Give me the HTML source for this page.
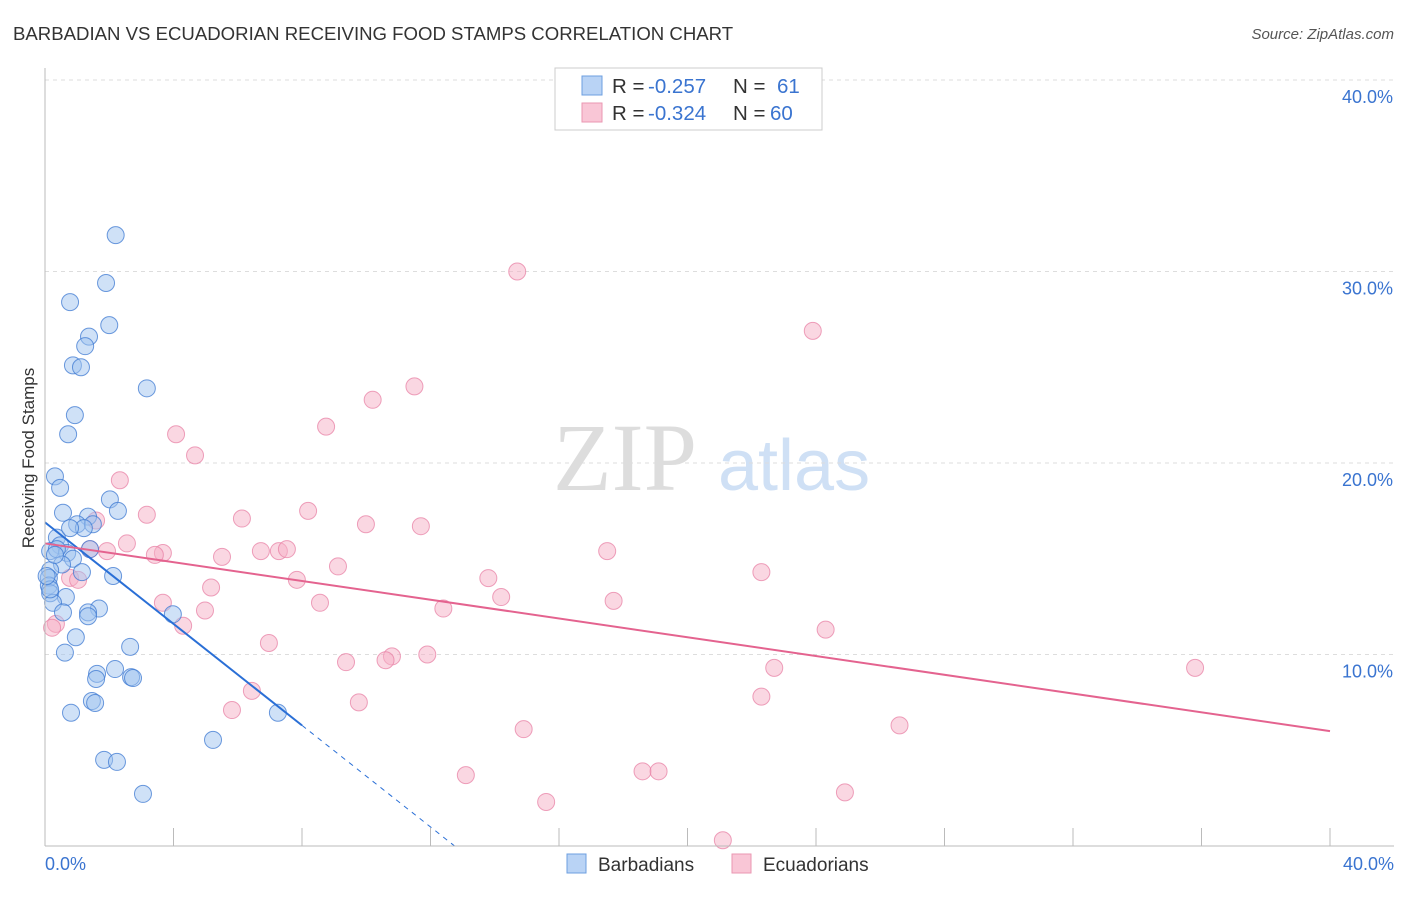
<!DOCTYPE html>
<html><head><meta charset="utf-8"><style>
body{margin:0;background:#fff;font-family:"Liberation Sans",sans-serif;}
svg text{font-family:"Liberation Sans",sans-serif;}
</style></head><body>
<svg id="chart" width="1406" height="892" xmlns="http://www.w3.org/2000/svg">
<text x="13" y="40" font-size="18.6" fill="#333">BARBADIAN VS ECUADORIAN RECEIVING FOOD STAMPS CORRELATION CHART</text>
<text x="1394" y="39" font-size="15" fill="#555" text-anchor="end" font-style="italic">Source: ZipAtlas.com</text>
<text transform="translate(34,458) rotate(-90)" font-size="17" fill="#333" text-anchor="middle">Receiving Food Stamps</text>
<text x="553" y="490" font-size="96" fill="#ddd" font-family="Liberation Serif" style="font-family:'Liberation Serif',serif">ZIP</text>
<text x="718" y="490" font-size="72" fill="#cfe0f5">atlas</text>
<g id="grid"></g><g id="pts"></g><g id="lines"></g>
<line x1="45" y1="846" x2="1394" y2="846" stroke="#bbb"/>
<line x1="45" y1="68" x2="45" y2="846" stroke="#bbb"/>
<text x="45" y="870" font-size="18" fill="#3a74d0">0.0%</text>
<text x="1394" y="870" font-size="18" fill="#3a74d0" text-anchor="end">40.0%</text>
<g>
<rect x="555" y="68" width="267" height="62" fill="#fff" stroke="#ccc"/>
<rect x="582" y="76" width="20" height="19" fill="#b9d3f5" stroke="#6d9fe0"/>
<rect x="582" y="103" width="20" height="19" fill="#f9c6d6" stroke="#ea97b2"/>
<text x="612" y="93" font-size="20.5" fill="#333">R = </text><text x="648" y="93" font-size="20.5" fill="#3a74d0">-0.257</text>
<text x="733" y="93" font-size="20.5" fill="#333">N = </text><text x="777" y="93" font-size="20.5" fill="#3a74d0">61</text>
<text x="612" y="120" font-size="20.5" fill="#333">R = </text><text x="648" y="120" font-size="20.5" fill="#3a74d0">-0.324</text>
<text x="733" y="120" font-size="20.5" fill="#333">N = </text><text x="770" y="120" font-size="20.5" fill="#3a74d0">60</text>
</g>
<g>
<rect x="567" y="854" width="19" height="19" fill="#b9d3f5" stroke="#6d9fe0"/>
<text x="598" y="871" font-size="19" fill="#333">Barbadians</text>
<rect x="732" y="854" width="19" height="19" fill="#f9c6d6" stroke="#ea97b2"/>
<text x="763" y="871" font-size="19" fill="#333">Ecuadorians</text>
</g>
</svg>
<script>
const yTicks=[10,20,30,40];
const xTicks=[4,8,12,16,20,24,28,32,36,40];
const blueX=[2.2,1.9,0.78,2.0,1.37,1.25,0.87,1.12,3.17,0.93,0.72,0.31,0.47,2.02,2.27,0.56,1.34,1.0,1.49,1.21,0.37,0.47,0.16,0.69,0.37,0.87,1.4,0.53,0.16,1.15,0.12,2.12,0.12,0.16,0.65,0.25,1.68,0.56,1.34,1.34,3.98,0.96,2.65,0.62,1.62,1.59,2.18,2.68,2.74,1.46,1.56,0.81,7.25,5.23,1.84,2.24,3.05,0.16,0.31,0.05,0.78];
const blueY=[31.9,29.4,28.4,27.2,26.6,26.1,25.1,25.0,23.9,22.5,21.5,19.3,18.7,18.1,17.5,17.4,17.2,16.8,16.8,16.6,16.1,15.7,15.4,15.3,15.5,15.0,15.5,14.7,14.4,14.3,14.0,14.1,13.6,13.2,13.0,12.7,12.4,12.2,12.2,12.0,12.1,10.9,10.4,10.1,8.99,8.72,9.24,8.82,8.77,7.57,7.47,6.96,6.96,5.54,4.5,4.39,2.72,13.4,15.2,14.1,16.6];
const pinkX=[14.7,23.9,11.5,10.2,8.75,4.08,4.67,2.33,3.17,6.13,8.19,9.99,11.7,1.59,2.55,1.93,3.67,3.42,5.51,6.72,7.28,7.53,17.5,1.4,9.12,22.3,13.8,7.84,0.78,1.03,5.17,14.2,17.7,3.67,8.56,12.4,4.98,4.3,24.3,0.34,0.22,6.97,9.37,10.8,10.6,11.9,22.7,35.8,6.44,22.3,9.77,5.82,26.6,14.9,13.1,18.6,19.1,24.9,15.6,21.1];
const pinkY=[30.0,26.9,24.0,23.3,21.9,21.5,20.4,19.1,17.3,17.1,17.5,16.8,16.7,17.0,15.8,15.4,15.3,15.2,15.1,15.4,15.4,15.5,15.4,15.5,14.6,14.3,13.99,13.9,14.0,13.9,13.5,13.0,12.8,12.7,12.7,12.4,12.3,11.5,11.3,11.6,11.4,10.6,9.6,9.9,9.7,10.0,9.3,9.3,8.1,7.8,7.5,7.1,6.3,6.1,3.7,3.9,3.9,2.8,2.3,0.3];
const blueFit=[0,16.9,8.0,6.3];
const blueDashEnd=[12.75,0];
const pinkFit=[0,15.8,40,6.0];
const X=v=>45+v*32.125, Y=v=>846-v*19.15;
const NS="http://www.w3.org/2000/svg";
function mk(tag,attrs,parent){const e=document.createElementNS(NS,tag);for(const k in attrs)e.setAttribute(k,attrs[k]);parent.appendChild(e);return e;}
const grid=document.getElementById('grid'),pts=document.getElementById('pts'),lines=document.getElementById('lines'),svg=document.getElementById('chart');
yTicks.forEach(t=>{
 const l=mk('line',{x1:45,x2:1394,y1:Y(t),y2:Y(t),stroke:'#ddd','stroke-dasharray':'4,4'},grid);
 
 
 const tx=mk('text',{x:1393,y:Y(t)+23,'font-size':18,fill:'#3a74d0','text-anchor':'end'},svg);
 tx.textContent=t.toFixed(1)+'%';
 
 
});
xTicks.forEach(t=>{
 const l=mk('line',{x1:X(t),x2:X(t),y1:828,y2:846,stroke:'#bbb'},grid);
 
 
});
pinkX.forEach((v,i)=>{
 const c=mk('circle',{cx:X(v),cy:Y(pinkY[i]),r:8.5,fill:'rgba(246,175,198,0.5)',stroke:'rgba(232,130,165,0.75)','stroke-width':1},pts);
 
 
});
blueX.forEach((v,i)=>{
 const c=mk('circle',{cx:X(v),cy:Y(blueY[i]),r:8.5,fill:'rgba(160,196,240,0.5)',stroke:'rgba(60,120,210,0.75)','stroke-width':1},pts);
 
 
});
const bl=mk('line',{x1:X(blueFit[0]),y1:Y(blueFit[1]),x2:X(blueFit[2]),y2:Y(blueFit[3]),stroke:'#2a6fd6','stroke-width':2},lines);


const bd=mk('line',{x1:X(blueFit[2]),y1:Y(blueFit[3]),x2:X(blueDashEnd[0]),y2:Y(blueDashEnd[1]),stroke:'#2a6fd6','stroke-width':1,'stroke-dasharray':'5,5'},lines);


const pl=mk('line',{x1:X(pinkFit[0]),y1:Y(pinkFit[1]),x2:X(pinkFit[2]),y2:Y(pinkFit[3]),stroke:'#e4638f','stroke-width':2},lines);


</script>
</body></html>
